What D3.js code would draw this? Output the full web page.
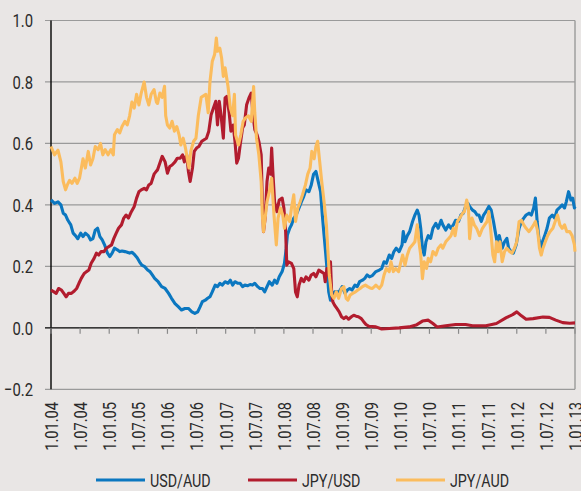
<!DOCTYPE html>
<html>
<head>
<meta charset="utf-8">
<script src="https://cdn.jsdelivr.net/npm/d3@7"></script>
<style>
  body { margin: 0; background: #e9e6e5; }
  svg { display: block; }
  text { font-family: Roboto, "Liberation Sans", sans-serif; fill: #2b2b2b; }
</style>
</head>
<body>
<svg id="chart" width="581" height="491"></svg>
<script>
// x values are years since 1 Jan 2004
var tickLabels = ["1.01.04","1.07.04","1.01.05","1.07.05","1.01.06","1.07.06","1.01.07","1.07.07","1.01.08",
  "1.07.08","1.01.09","1.07.09","1.01.10","1.07.10","1.01.11","1.07.11","1.01.12","1.07.12","1.01.13"];
var yTicks = [-0.2, 0, 0.2, 0.4, 0.6, 0.8, 1.0];
var seriesNames = ["USD/AUD", "JPY/USD", "JPY/AUD"];

var usdAudYrs = [0.00,0.06,0.12,0.17,0.21,0.25,0.29,0.34,0.38,0.42,0.46,0.51,0.55,0.59,0.64,0.68,0.72,0.76,0.80,0.84,0.88,0.92,0.97,
  1.01,1.05,1.09,1.14,1.18,1.22,1.27,1.31,1.35,1.39,1.44,1.48,1.52,1.56,1.61,1.66,1.70,1.74,1.78,1.84,1.90,1.96,
  2.02,2.07,2.13,2.19,2.24,2.30,2.36,2.42,2.47,2.52,2.56,2.60,2.65,2.69,2.73,2.77,2.82,2.86,2.90,2.94,2.99,
  3.04,3.08,3.12,3.16,3.21,3.25,3.29,3.33,3.38,3.42,3.46,3.50,3.55,3.59,3.63,3.67,3.71,3.75,3.80,3.84,3.88,3.92,3.97,
  4.01,4.04,4.06,4.10,4.13,4.17,4.21,4.26,4.30,4.34,4.38,4.43,4.47,4.51,4.55,4.59,4.63,4.66,4.69,4.71,4.74,4.77,4.80,4.83,4.87,4.91,4.95,
  5.00,5.05,5.09,5.13,5.17,5.22,5.26,5.30,5.35,5.39,5.43,5.47,5.52,5.58,5.64,5.68,5.72,5.76,5.81,5.85,5.89,5.93,5.98,
  6.03,6.05,6.08,6.12,6.16,6.21,6.25,6.29,6.32,6.35,6.38,6.41,6.44,6.48,6.52,6.56,6.61,6.65,6.70,6.73,6.78,6.83,6.87,6.91,6.95,
  7.00,7.04,7.08,7.13,7.16,7.19,7.24,7.28,7.32,7.35,7.39,7.43,7.47,7.52,7.56,7.60,7.63,7.67,7.70,7.75,7.79,7.83,7.86,7.90,7.94,7.99,
  8.04,8.08,8.12,8.16,8.21,8.25,8.29,8.32,8.35,8.38,8.41,8.44,8.48,8.52,8.56,8.61,8.65,8.69,8.73,8.78,8.82,8.85,8.89,8.93,8.96,8.99,9.00];
var usdAudVals = [0.416,0.405,0.41,0.40,0.373,0.367,0.35,0.335,0.308,0.30,0.29,0.308,0.297,0.308,0.30,0.286,0.29,0.318,0.324,0.297,0.286,0.27,0.243,
  0.232,0.243,0.259,0.254,0.248,0.25,0.248,0.246,0.243,0.246,0.237,0.228,0.215,0.204,0.199,0.188,0.183,0.172,0.161,0.15,0.134,0.128,
  0.112,0.096,0.079,0.068,0.058,0.063,0.063,0.052,0.047,0.052,0.068,0.085,0.09,0.096,0.101,0.117,0.139,0.134,0.145,0.139,0.15,
  0.145,0.155,0.139,0.15,0.145,0.145,0.134,0.139,0.137,0.141,0.139,0.145,0.134,0.128,0.128,0.117,0.134,0.15,0.139,0.155,0.145,0.166,0.183,
  0.21,0.259,0.302,0.324,0.335,0.357,0.367,0.39,0.41,0.427,0.449,0.443,0.465,0.50,0.509,0.476,0.443,0.367,0.302,0.259,0.193,0.117,0.09,0.107,0.117,0.117,0.117,
  0.134,0.112,0.123,0.128,0.123,0.139,0.134,0.15,0.155,0.161,0.172,0.166,0.17,0.183,0.188,0.193,0.215,0.21,0.237,0.226,0.248,0.259,0.248,
  0.27,0.313,0.28,0.30,0.313,0.346,0.367,0.383,0.367,0.324,0.259,0.237,0.28,0.30,0.291,0.324,0.34,0.324,0.35,0.335,0.318,0.335,0.324,0.335,0.35,
  0.346,0.367,0.373,0.40,0.405,0.395,0.383,0.378,0.367,0.367,0.346,0.367,0.378,0.395,0.383,0.346,0.313,0.27,0.30,0.259,0.28,0.291,0.259,0.248,0.243,0.27,
  0.324,0.346,0.357,0.367,0.373,0.367,0.39,0.422,0.346,0.291,0.259,0.28,0.30,0.324,0.357,0.367,0.357,0.383,0.39,0.40,0.39,0.41,0.443,0.416,0.422,0.39,0.395];

var jpyUsdYrs = [0.00,0.05,0.09,0.13,0.18,0.22,0.26,0.30,0.35,0.40,0.44,0.48,0.52,0.57,0.61,0.65,0.69,0.74,0.78,0.82,0.86,0.91,0.95,0.99,
  1.04,1.08,1.12,1.16,1.21,1.25,1.29,1.33,1.38,1.43,1.47,1.51,1.55,1.60,1.64,1.68,1.72,1.77,1.81,1.83,1.87,1.91,1.96,
  2.00,2.04,2.08,2.13,2.17,2.22,2.26,2.29,2.33,2.36,2.39,2.43,2.46,2.50,2.54,2.59,2.63,2.67,2.71,2.75,2.79,2.83,2.86,2.89,2.92,2.96,2.99,
  3.02,3.06,3.09,3.13,3.16,3.19,3.22,3.25,3.29,3.32,3.36,3.40,3.44,3.47,3.50,3.54,3.57,3.61,3.63,3.65,3.68,3.71,3.74,3.77,3.79,3.81,3.84,3.88,3.92,3.97,
  4.00,4.03,4.05,4.08,4.13,4.17,4.20,4.23,4.26,4.30,4.34,4.38,4.43,4.47,4.51,4.55,4.60,4.64,4.69,4.71,4.74,4.77,4.80,4.82,4.84,4.87,4.91,4.95,4.99,
  5.03,5.07,5.11,5.16,5.20,5.24,5.28,5.33,5.37,5.41,5.46,5.58,5.68,5.81,5.98,
  6.15,6.27,6.38,6.48,6.56,6.63,6.78,6.95,7.12,7.24,7.47,7.65,7.82,7.93,8.00,8.08,8.16,8.28,8.45,8.56,8.67,8.79,8.91,9.00];
var jpyUsdVals = [0.123,0.117,0.112,0.128,0.123,0.112,0.101,0.112,0.112,0.12,0.128,0.145,0.161,0.177,0.183,0.188,0.21,0.226,0.243,0.237,0.248,0.248,0.259,0.264,
  0.27,0.291,0.308,0.324,0.335,0.357,0.367,0.357,0.378,0.395,0.422,0.443,0.449,0.454,0.449,0.465,0.47,0.50,0.51,0.514,0.536,0.558,0.54,
  0.503,0.525,0.53,0.54,0.552,0.552,0.563,0.54,0.563,0.509,0.476,0.52,0.574,0.585,0.59,0.607,0.612,0.617,0.64,0.693,0.715,0.737,0.66,0.737,0.693,0.617,0.748,
  0.753,0.70,0.64,0.66,0.607,0.536,0.552,0.596,0.65,0.66,0.726,0.748,0.764,0.693,0.645,0.628,0.607,0.563,0.41,0.313,0.36,0.476,0.52,0.50,0.585,0.509,0.41,0.378,0.416,0.422,
  0.39,0.313,0.204,0.215,0.21,0.193,0.117,0.101,0.139,0.161,0.15,0.166,0.155,0.172,0.177,0.166,0.188,0.183,0.177,0.15,0.193,0.172,0.215,0.117,0.085,0.074,0.063,0.052,0.036,
  0.03,0.036,0.028,0.036,0.041,0.038,0.036,0.03,0.02,0.011,0.005,0.003,-0.004,-0.002,0.0,
  0.003,0.009,0.022,0.025,0.014,0.003,0.007,0.011,0.011,0.007,0.007,0.014,0.033,0.043,0.052,0.039,0.028,0.03,0.035,0.034,0.025,0.017,0.015,0.016];

var jpyAudYrs = [0.00,0.06,0.12,0.17,0.21,0.25,0.28,0.32,0.36,0.41,0.45,0.49,0.55,0.59,0.64,0.68,0.72,0.76,0.81,0.85,0.89,0.93,0.98,
  1.03,1.07,1.09,1.14,1.18,1.22,1.27,1.31,1.35,1.39,1.43,1.47,1.51,1.55,1.60,1.64,1.68,1.72,1.77,1.81,1.83,1.87,1.91,1.95,1.97,
  2.00,2.04,2.08,2.12,2.16,2.20,2.23,2.27,2.31,2.35,2.37,2.40,2.45,2.49,2.53,2.58,2.62,2.66,2.70,2.73,2.77,2.81,2.84,2.86,2.90,2.93,2.96,2.99,
  3.04,3.08,3.12,3.15,3.17,3.22,3.26,3.30,3.34,3.39,3.44,3.48,3.50,3.53,3.57,3.61,3.63,3.65,3.68,3.71,3.75,3.79,3.83,3.87,3.90,3.94,3.98,
  4.01,4.05,4.10,4.13,4.17,4.20,4.24,4.28,4.32,4.37,4.41,4.45,4.48,4.52,4.55,4.58,4.61,4.65,4.69,4.73,4.76,4.78,4.82,4.86,4.90,4.94,4.99,
  5.03,5.07,5.10,5.14,5.18,5.23,5.27,5.31,5.35,5.40,5.44,5.48,5.52,5.58,5.64,5.68,5.72,5.76,5.81,5.84,5.88,5.92,5.97,
  6.01,6.04,6.08,6.12,6.16,6.21,6.25,6.29,6.32,6.35,6.38,6.41,6.45,6.48,6.52,6.56,6.61,6.65,6.70,6.73,6.78,6.83,6.87,6.91,6.94,6.98,
  7.02,7.07,7.10,7.14,7.17,7.19,7.23,7.27,7.31,7.36,7.41,7.45,7.49,7.52,7.55,7.59,7.62,7.65,7.68,7.71,7.75,7.79,7.83,7.88,7.92,7.96,
  8.00,8.04,8.08,8.12,8.16,8.21,8.25,8.29,8.32,8.36,8.39,8.42,8.45,8.49,8.53,8.57,8.62,8.66,8.70,8.74,8.78,8.82,8.86,8.91,8.95,8.99,9.00];
var jpyAudVals = [0.59,0.563,0.578,0.54,0.476,0.449,0.465,0.48,0.47,0.487,0.47,0.487,0.55,0.52,0.574,0.53,0.55,0.59,0.58,0.60,0.563,0.58,0.563,
  0.58,0.563,0.628,0.645,0.634,0.655,0.672,0.66,0.69,0.735,0.715,0.76,0.725,0.764,0.80,0.75,0.725,0.76,0.775,0.735,0.73,0.764,0.75,0.786,0.69,
  0.66,0.65,0.672,0.64,0.655,0.628,0.595,0.617,0.585,0.54,0.52,0.574,0.607,0.617,0.69,0.75,0.755,0.76,0.70,0.80,0.867,0.889,0.943,0.90,0.91,0.878,0.818,0.846,
  0.786,0.715,0.69,0.76,0.628,0.595,0.628,0.672,0.683,0.69,0.672,0.785,0.70,0.617,0.563,0.476,0.367,0.313,0.36,0.41,0.443,0.487,0.367,0.27,0.357,0.39,0.367,
  0.324,0.367,0.346,0.39,0.433,0.346,0.39,0.41,0.433,0.465,0.50,0.52,0.574,0.55,0.59,0.607,0.55,0.476,0.41,0.335,0.237,0.172,0.107,0.096,0.117,0.096,0.128,
  0.134,0.096,0.09,0.107,0.112,0.117,0.123,0.128,0.134,0.139,0.134,0.13,0.128,0.139,0.128,0.139,0.172,0.193,0.183,0.215,0.183,0.193,0.183,
  0.215,0.237,0.204,0.237,0.259,0.27,0.28,0.335,0.28,0.237,0.16,0.215,0.193,0.226,0.215,0.248,0.237,0.259,0.27,0.259,0.28,0.291,0.30,0.324,0.30,0.346,
  0.357,0.373,0.378,0.416,0.39,0.29,0.357,0.335,0.324,0.30,0.324,0.335,0.346,0.378,0.324,0.237,0.215,0.28,0.248,0.28,0.215,0.248,0.259,0.248,0.243,0.259,
  0.28,0.346,0.35,0.335,0.324,0.313,0.324,0.335,0.346,0.313,0.259,0.237,0.259,0.28,0.30,0.313,0.324,0.346,0.367,0.335,0.324,0.335,0.313,0.313,0.30,0.27,0.248];

var colors = ["#0b77c0", "#b21c2e", "#fbbc5d"];

var svg = d3.select("#chart"),
    plotLeft = 51, plotRight = 575, plotTop = 20.5, plotBottom = 389.3;

var x = d3.scaleLinear().domain([0, 9]).range([plotLeft, plotRight]);
var y = d3.scaleLinear().domain([-0.2, 1.0]).range([plotBottom, plotTop]);

// squeeze text to look like the condensed face of the original
function condense(sel, k) {
  sel.each(function() {
    var w = this.getComputedTextLength();
    d3.select(this).attr("textLength", w * k).attr("lengthAdjust", "spacingAndGlyphs");
  });
}

// gridlines + y labels
var grid = svg.append("g");
grid.selectAll("line")
  .data(yTicks)
  .enter().append("line")
    .attr("x1", plotLeft - 6)
    .attr("x2", plotRight)
    .attr("y1", function(d) { return y(d); })
    .attr("y2", function(d) { return y(d); })
    .attr("stroke", function(d) { return d === 0 ? "#000" : "#9a9a9a"; })
    .attr("stroke-width", function(d) { return d === 0 ? 1.4 : 1.2; });

grid.selectAll("text")
  .data(yTicks)
  .enter().append("text")
    .attr("x", 33)
    .attr("y", function(d) { return y(d); })
    .attr("dy", "0.36em")
    .attr("text-anchor", "end")
    .attr("font-size", 19)
    .text(function(d) { return d3.format(".1f")(d); })
    .call(condense, 0.78);

// frame
svg.append("line").attr("x1", plotRight).attr("x2", plotRight).attr("y1", plotTop).attr("y2", plotBottom)
  .attr("stroke", "#9a9a9a").attr("stroke-width", 1.4);
svg.append("line").attr("x1", plotLeft).attr("x2", plotLeft).attr("y1", plotTop).attr("y2", plotBottom)
  .attr("stroke", "#000").attr("stroke-width", 1.4);

// x ticks on the zero line
var xt = svg.append("g");
xt.selectAll("line")
  .data(tickLabels)
  .enter().append("line")
    .attr("x1", function(d, i) { return x(i / 2); })
    .attr("x2", function(d, i) { return x(i / 2); })
    .attr("y1", y(0))
    .attr("y2", y(0) + 6)
    .attr("stroke", "#8a8a8a")
    .attr("stroke-width", 1.2);

xt.selectAll("text")
  .data(tickLabels)
  .enter().append("text")
    .attr("transform", function(d, i) { return "translate(" + x(i / 2) + "," + 402 + ") rotate(-90)"; })
    .attr("dy", "0.36em")
    .attr("text-anchor", "end")
    .attr("font-size", 19)
    .text(function(d) { return d; })
    .call(condense, 0.77);

// lines
var line = d3.line()
  .x(function(d) { return x(d[0]); })
  .y(function(d) { return y(d[1]); });

var series = [
  d3.zip(usdAudYrs, usdAudVals),
  d3.zip(jpyUsdYrs, jpyUsdVals),
  d3.zip(jpyAudYrs, jpyAudVals)
];

svg.append("g")
  .selectAll("path")
  .data(series)
  .enter().append("path")
    .attr("d", line)
    .attr("fill", "none")
    .attr("stroke", function(d, i) { return colors[i]; })
    .attr("stroke-width", 3.1)
    .attr("stroke-linejoin", "round");

// legend
var legendX = [96, 248, 396];
var legend = svg.append("g")
  .selectAll("g")
  .data(seriesNames)
  .enter().append("g")
    .attr("transform", function(d, i) { return "translate(" + legendX[i] + ",480)"; });

legend.append("line")
  .attr("x1", 0).attr("x2", 49)
  .attr("stroke", function(d, i) { return colors[i]; })
  .attr("stroke-width", 3);

legend.append("text")
  .attr("x", 54)
  .attr("dy", "0.36em")
  .attr("font-size", 19)
  .text(function(d) { return d; })
  .call(condense, 0.75);
</script>
</body>
</html>
